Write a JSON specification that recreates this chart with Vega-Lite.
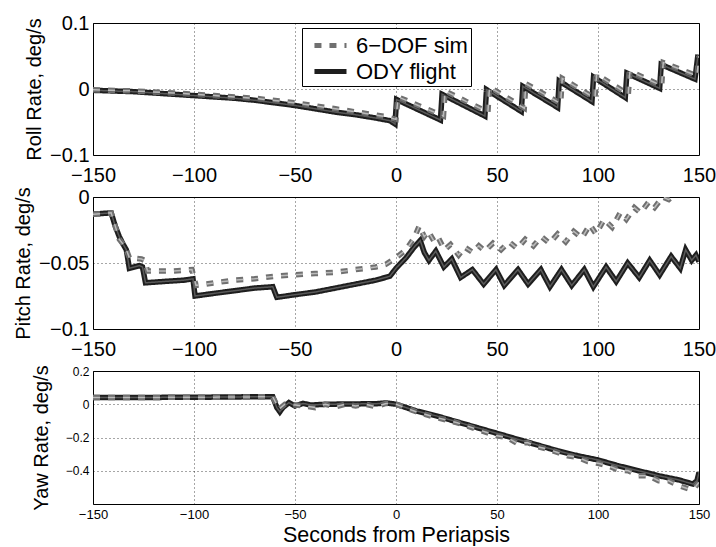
{
  "$schema": "https://vega.github.io/schema/vega-lite/v6.json",
  "background": "white",
  "padding": {"left": 12, "top": 12, "right": 0, "bottom": 0},
  "spacing": 42,
  "bounds": "flush",
  "datasets": {
    "roll": [
      {"t": -150, "v": -0.002, "s": "ODY flight"}, {"t": -140, "v": -0.003, "s": "ODY flight"}, {"t": -130, "v": -0.004, "s": "ODY flight"},
      {"t": -120, "v": -0.006, "s": "ODY flight"}, {"t": -110, "v": -0.008, "s": "ODY flight"}, {"t": -100, "v": -0.010, "s": "ODY flight"},
      {"t": -90, "v": -0.012, "s": "ODY flight"}, {"t": -80, "v": -0.014, "s": "ODY flight"}, {"t": -70, "v": -0.017, "s": "ODY flight"},
      {"t": -60, "v": -0.021, "s": "ODY flight"}, {"t": -50, "v": -0.025, "s": "ODY flight"}, {"t": -40, "v": -0.030, "s": "ODY flight"},
      {"t": -30, "v": -0.035, "s": "ODY flight"}, {"t": -20, "v": -0.039, "s": "ODY flight"}, {"t": -10, "v": -0.044, "s": "ODY flight"},
      {"t": -3, "v": -0.048, "s": "ODY flight"}, {"t": -0.5, "v": -0.053, "s": "ODY flight"}, {"t": 0.3, "v": -0.016, "s": "ODY flight"},
      {"t": 22, "v": -0.047, "s": "ODY flight"}, {"t": 22.8, "v": -0.008, "s": "ODY flight"}, {"t": 44, "v": -0.041, "s": "ODY flight"},
      {"t": 44.8, "v": -0.001, "s": "ODY flight"}, {"t": 62, "v": -0.034, "s": "ODY flight"}, {"t": 62.8, "v": 0.004, "s": "ODY flight"},
      {"t": 80, "v": -0.028, "s": "ODY flight"}, {"t": 80.8, "v": 0.012, "s": "ODY flight"}, {"t": 97, "v": -0.019, "s": "ODY flight"},
      {"t": 97.8, "v": 0.018, "s": "ODY flight"}, {"t": 113.5, "v": -0.013, "s": "ODY flight"}, {"t": 114.3, "v": 0.024, "s": "ODY flight"},
      {"t": 130.5, "v": 0.001, "s": "ODY flight"}, {"t": 131.3, "v": 0.037, "s": "ODY flight"}, {"t": 148, "v": 0.015, "s": "ODY flight"},
      {"t": 149.5, "v": 0.052, "s": "ODY flight"},
      {"t": -150, "v": -0.001, "s": "6−DOF sim"}, {"t": -130, "v": -0.003, "s": "6−DOF sim"}, {"t": -110, "v": -0.006, "s": "6−DOF sim"},
      {"t": -90, "v": -0.010, "s": "6−DOF sim"}, {"t": -70, "v": -0.014, "s": "6−DOF sim"}, {"t": -50, "v": -0.021, "s": "6−DOF sim"},
      {"t": -30, "v": -0.030, "s": "6−DOF sim"}, {"t": -15, "v": -0.037, "s": "6−DOF sim"}, {"t": -5, "v": -0.042, "s": "6−DOF sim"},
      {"t": 0, "v": -0.046, "s": "6−DOF sim"}, {"t": 1, "v": -0.012, "s": "6−DOF sim"}, {"t": 23.5, "v": -0.041, "s": "6−DOF sim"},
      {"t": 24.3, "v": -0.003, "s": "6−DOF sim"}, {"t": 45.5, "v": -0.035, "s": "6−DOF sim"}, {"t": 46.3, "v": 0.003, "s": "6−DOF sim"},
      {"t": 63.5, "v": -0.029, "s": "6−DOF sim"}, {"t": 64.3, "v": 0.008, "s": "6−DOF sim"}, {"t": 81.5, "v": -0.022, "s": "6−DOF sim"},
      {"t": 82.3, "v": 0.016, "s": "6−DOF sim"}, {"t": 98.5, "v": -0.014, "s": "6−DOF sim"}, {"t": 99.3, "v": 0.022, "s": "6−DOF sim"},
      {"t": 115, "v": -0.008, "s": "6−DOF sim"}, {"t": 115.8, "v": 0.027, "s": "6−DOF sim"}, {"t": 131.5, "v": 0.005, "s": "6−DOF sim"},
      {"t": 132.3, "v": 0.040, "s": "6−DOF sim"}, {"t": 149, "v": 0.020, "s": "6−DOF sim"}, {"t": 150, "v": 0.050, "s": "6−DOF sim"}
    ],
    "pitch": [
      {"t": -150, "v": -0.013, "s": "ODY flight"}, {"t": -141, "v": -0.012, "s": "ODY flight"}, {"t": -139, "v": -0.022, "s": "ODY flight"},
      {"t": -137, "v": -0.030, "s": "ODY flight"}, {"t": -135, "v": -0.036, "s": "ODY flight"}, {"t": -133.5, "v": -0.040, "s": "ODY flight"},
      {"t": -132, "v": -0.054, "s": "ODY flight"}, {"t": -127, "v": -0.052, "s": "ODY flight"}, {"t": -125.5, "v": -0.053, "s": "ODY flight"},
      {"t": -124, "v": -0.065, "s": "ODY flight"}, {"t": -115, "v": -0.064, "s": "ODY flight"}, {"t": -105, "v": -0.063, "s": "ODY flight"},
      {"t": -100.5, "v": -0.062, "s": "ODY flight"}, {"t": -99.5, "v": -0.075, "s": "ODY flight"}, {"t": -90, "v": -0.073, "s": "ODY flight"},
      {"t": -80, "v": -0.071, "s": "ODY flight"}, {"t": -70, "v": -0.069, "s": "ODY flight"}, {"t": -61, "v": -0.068, "s": "ODY flight"},
      {"t": -59, "v": -0.076, "s": "ODY flight"}, {"t": -50, "v": -0.074, "s": "ODY flight"}, {"t": -40, "v": -0.072, "s": "ODY flight"},
      {"t": -30, "v": -0.069, "s": "ODY flight"}, {"t": -20, "v": -0.066, "s": "ODY flight"}, {"t": -10, "v": -0.063, "s": "ODY flight"},
      {"t": -3, "v": -0.060, "s": "ODY flight"}, {"t": 0, "v": -0.054, "s": "ODY flight"}, {"t": 5, "v": -0.046, "s": "ODY flight"},
      {"t": 9, "v": -0.038, "s": "ODY flight"}, {"t": 12, "v": -0.033, "s": "ODY flight"}, {"t": 14, "v": -0.042, "s": "ODY flight"},
      {"t": 16.3, "v": -0.048, "s": "ODY flight"}, {"t": 19.7, "v": -0.041, "s": "ODY flight"}, {"t": 23.7, "v": -0.053, "s": "ODY flight"},
      {"t": 27.6, "v": -0.047, "s": "ODY flight"}, {"t": 32, "v": -0.061, "s": "ODY flight"}, {"t": 37.8, "v": -0.055, "s": "ODY flight"},
      {"t": 43.4, "v": -0.066, "s": "ODY flight"}, {"t": 49.5, "v": -0.055, "s": "ODY flight"}, {"t": 53.6, "v": -0.067, "s": "ODY flight"},
      {"t": 60.4, "v": -0.055, "s": "ODY flight"}, {"t": 65.4, "v": -0.066, "s": "ODY flight"}, {"t": 71.7, "v": -0.055, "s": "ODY flight"},
      {"t": 76.2, "v": -0.068, "s": "ODY flight"}, {"t": 81.9, "v": -0.055, "s": "ODY flight"}, {"t": 87, "v": -0.067, "s": "ODY flight"},
      {"t": 93.2, "v": -0.055, "s": "ODY flight"}, {"t": 97.7, "v": -0.068, "s": "ODY flight"}, {"t": 104, "v": -0.053, "s": "ODY flight"},
      {"t": 109, "v": -0.064, "s": "ODY flight"}, {"t": 114.7, "v": -0.050, "s": "ODY flight"}, {"t": 120.4, "v": -0.061, "s": "ODY flight"},
      {"t": 125.6, "v": -0.048, "s": "ODY flight"}, {"t": 130.5, "v": -0.059, "s": "ODY flight"}, {"t": 136.2, "v": -0.045, "s": "ODY flight"},
      {"t": 140.7, "v": -0.054, "s": "ODY flight"}, {"t": 143.4, "v": -0.040, "s": "ODY flight"}, {"t": 146.4, "v": -0.048, "s": "ODY flight"},
      {"t": 148.5, "v": -0.044, "s": "ODY flight"}, {"t": 150, "v": -0.049, "s": "ODY flight"},
      {"t": -150, "v": -0.013, "s": "6−DOF sim"}, {"t": -141, "v": -0.012, "s": "6−DOF sim"}, {"t": -139, "v": -0.022, "s": "6−DOF sim"},
      {"t": -137, "v": -0.032, "s": "6−DOF sim"}, {"t": -134, "v": -0.038, "s": "6−DOF sim"}, {"t": -132, "v": -0.046, "s": "6−DOF sim"},
      {"t": -126, "v": -0.047, "s": "6−DOF sim"}, {"t": -124.5, "v": -0.048, "s": "6−DOF sim"}, {"t": -123, "v": -0.056, "s": "6−DOF sim"},
      {"t": -110, "v": -0.056, "s": "6−DOF sim"}, {"t": -101, "v": -0.055, "s": "6−DOF sim"}, {"t": -99, "v": -0.067, "s": "6−DOF sim"},
      {"t": -90, "v": -0.065, "s": "6−DOF sim"}, {"t": -80, "v": -0.063, "s": "6−DOF sim"}, {"t": -70, "v": -0.062, "s": "6−DOF sim"},
      {"t": -60, "v": -0.060, "s": "6−DOF sim"}, {"t": -50, "v": -0.059, "s": "6−DOF sim"}, {"t": -40, "v": -0.058, "s": "6−DOF sim"},
      {"t": -30, "v": -0.057, "s": "6−DOF sim"}, {"t": -20, "v": -0.055, "s": "6−DOF sim"}, {"t": -10, "v": -0.053, "s": "6−DOF sim"},
      {"t": -5, "v": -0.051, "s": "6−DOF sim"}, {"t": 0, "v": -0.046, "s": "6−DOF sim"}, {"t": 5, "v": -0.040, "s": "6−DOF sim"},
      {"t": 9, "v": -0.031, "s": "6−DOF sim"}, {"t": 11.5, "v": -0.022, "s": "6−DOF sim"}, {"t": 14, "v": -0.030, "s": "6−DOF sim"},
      {"t": 16, "v": -0.026, "s": "6−DOF sim"}, {"t": 19, "v": -0.034, "s": "6−DOF sim"}, {"t": 21, "v": -0.031, "s": "6−DOF sim"},
      {"t": 24, "v": -0.040, "s": "6−DOF sim"}, {"t": 27, "v": -0.036, "s": "6−DOF sim"}, {"t": 31, "v": -0.044, "s": "6−DOF sim"},
      {"t": 34, "v": -0.038, "s": "6−DOF sim"}, {"t": 38, "v": -0.042, "s": "6−DOF sim"}, {"t": 41, "v": -0.037, "s": "6−DOF sim"},
      {"t": 44, "v": -0.041, "s": "6−DOF sim"}, {"t": 48, "v": -0.035, "s": "6−DOF sim"}, {"t": 52, "v": -0.040, "s": "6−DOF sim"},
      {"t": 56, "v": -0.034, "s": "6−DOF sim"}, {"t": 60, "v": -0.039, "s": "6−DOF sim"}, {"t": 64, "v": -0.032, "s": "6−DOF sim"},
      {"t": 68, "v": -0.037, "s": "6−DOF sim"}, {"t": 72, "v": -0.030, "s": "6−DOF sim"}, {"t": 76, "v": -0.035, "s": "6−DOF sim"},
      {"t": 80, "v": -0.028, "s": "6−DOF sim"}, {"t": 84, "v": -0.034, "s": "6−DOF sim"}, {"t": 88, "v": -0.026, "s": "6−DOF sim"},
      {"t": 92, "v": -0.031, "s": "6−DOF sim"}, {"t": 96, "v": -0.021, "s": "6−DOF sim"}, {"t": 99, "v": -0.028, "s": "6−DOF sim"},
      {"t": 103, "v": -0.017, "s": "6−DOF sim"}, {"t": 107, "v": -0.023, "s": "6−DOF sim"}, {"t": 111, "v": -0.012, "s": "6−DOF sim"},
      {"t": 114, "v": -0.017, "s": "6−DOF sim"}, {"t": 118, "v": -0.008, "s": "6−DOF sim"}, {"t": 121, "v": -0.012, "s": "6−DOF sim"},
      {"t": 125, "v": -0.004, "s": "6−DOF sim"}, {"t": 128, "v": -0.008, "s": "6−DOF sim"}, {"t": 132, "v": 0.000, "s": "6−DOF sim"},
      {"t": 135, "v": -0.002, "s": "6−DOF sim"}, {"t": 140, "v": 0.005, "s": "6−DOF sim"}, {"t": 150, "v": 0.012, "s": "6−DOF sim"}
    ],
    "yaw": [
      {"t": -150, "v": 0.040, "s": "ODY flight"}, {"t": -100, "v": 0.042, "s": "ODY flight"}, {"t": -70, "v": 0.045, "s": "ODY flight"},
      {"t": -61, "v": 0.045, "s": "ODY flight"}, {"t": -59, "v": -0.020, "s": "ODY flight"}, {"t": -57.5, "v": -0.045, "s": "ODY flight"},
      {"t": -56, "v": -0.020, "s": "ODY flight"}, {"t": -53, "v": 0.010, "s": "ODY flight"}, {"t": -50, "v": -0.010, "s": "ODY flight"},
      {"t": -46, "v": 0.005, "s": "ODY flight"}, {"t": -42, "v": -0.005, "s": "ODY flight"}, {"t": -35, "v": 0.000, "s": "ODY flight"},
      {"t": -20, "v": 0.002, "s": "ODY flight"}, {"t": -10, "v": 0.003, "s": "ODY flight"}, {"t": -5, "v": 0.008, "s": "ODY flight"},
      {"t": 0, "v": 0.000, "s": "ODY flight"}, {"t": 10, "v": -0.040, "s": "ODY flight"}, {"t": 20, "v": -0.070, "s": "ODY flight"},
      {"t": 30, "v": -0.105, "s": "ODY flight"}, {"t": 40, "v": -0.140, "s": "ODY flight"}, {"t": 50, "v": -0.175, "s": "ODY flight"},
      {"t": 60, "v": -0.210, "s": "ODY flight"}, {"t": 70, "v": -0.245, "s": "ODY flight"}, {"t": 80, "v": -0.280, "s": "ODY flight"},
      {"t": 90, "v": -0.310, "s": "ODY flight"}, {"t": 100, "v": -0.335, "s": "ODY flight"}, {"t": 110, "v": -0.370, "s": "ODY flight"},
      {"t": 120, "v": -0.400, "s": "ODY flight"}, {"t": 130, "v": -0.430, "s": "ODY flight"}, {"t": 140, "v": -0.455, "s": "ODY flight"},
      {"t": 147, "v": -0.480, "s": "ODY flight"}, {"t": 149, "v": -0.460, "s": "ODY flight"}, {"t": 150, "v": -0.410, "s": "ODY flight"},
      {"t": -150, "v": 0.040, "s": "6−DOF sim"}, {"t": -100, "v": 0.042, "s": "6−DOF sim"}, {"t": -61, "v": 0.045, "s": "6−DOF sim"},
      {"t": -58, "v": -0.030, "s": "6−DOF sim"}, {"t": -55, "v": 0.000, "s": "6−DOF sim"}, {"t": -50, "v": -0.005, "s": "6−DOF sim"},
      {"t": -45, "v": -0.010, "s": "6−DOF sim"}, {"t": -40, "v": -0.020, "s": "6−DOF sim"}, {"t": -35, "v": 0.000, "s": "6−DOF sim"},
      {"t": -30, "v": -0.015, "s": "6−DOF sim"}, {"t": -25, "v": 0.000, "s": "6−DOF sim"}, {"t": -20, "v": -0.010, "s": "6−DOF sim"},
      {"t": -15, "v": 0.000, "s": "6−DOF sim"}, {"t": -10, "v": -0.015, "s": "6−DOF sim"}, {"t": -5, "v": 0.005, "s": "6−DOF sim"},
      {"t": 0, "v": 0.000, "s": "6−DOF sim"}, {"t": 10, "v": -0.045, "s": "6−DOF sim"}, {"t": 20, "v": -0.080, "s": "6−DOF sim"},
      {"t": 30, "v": -0.110, "s": "6−DOF sim"}, {"t": 40, "v": -0.150, "s": "6−DOF sim"}, {"t": 50, "v": -0.190, "s": "6−DOF sim"},
      {"t": 55, "v": -0.200, "s": "6−DOF sim"}, {"t": 60, "v": -0.235, "s": "6−DOF sim"}, {"t": 65, "v": -0.230, "s": "6−DOF sim"},
      {"t": 70, "v": -0.255, "s": "6−DOF sim"}, {"t": 75, "v": -0.270, "s": "6−DOF sim"}, {"t": 80, "v": -0.290, "s": "6−DOF sim"},
      {"t": 85, "v": -0.310, "s": "6−DOF sim"}, {"t": 90, "v": -0.320, "s": "6−DOF sim"}, {"t": 95, "v": -0.345, "s": "6−DOF sim"},
      {"t": 100, "v": -0.355, "s": "6−DOF sim"}, {"t": 105, "v": -0.370, "s": "6−DOF sim"}, {"t": 110, "v": -0.395, "s": "6−DOF sim"},
      {"t": 115, "v": -0.400, "s": "6−DOF sim"}, {"t": 120, "v": -0.430, "s": "6−DOF sim"}, {"t": 125, "v": -0.430, "s": "6−DOF sim"},
      {"t": 130, "v": -0.460, "s": "6−DOF sim"}, {"t": 135, "v": -0.460, "s": "6−DOF sim"}, {"t": 140, "v": -0.490, "s": "6−DOF sim"},
      {"t": 145, "v": -0.510, "s": "6−DOF sim"}, {"t": 148, "v": -0.500, "s": "6−DOF sim"}, {"t": 150, "v": -0.470, "s": "6−DOF sim"}
    ]
  },
  "resolve": {"scale": {"color": "independent", "strokeDash": "independent", "stroke": "independent"}},
  "vconcat": [
    {
      "width": 606, "height": 132,
      "data": {"name": "roll"},
      "layer": [
        {
          "mark": {"type": "line", "clip": true, "strokeWidth": 5.5},
          "encoding": {
            "x": {"field": "t", "type": "quantitative", "scale": {"domain": [-150, 150], "nice": false, "zero": false}, "axis": {"values": [-150, -100, -50, 0, 50, 100, 150], "title": null, "labelPadding": 10, "labelFontSize": 20}},
            "y": {"field": "v", "type": "quantitative", "scale": {"domain": [-0.1, 0.1], "nice": false, "zero": false}, "axis": {"values": [-0.1, 0, 0.1], "format": "~g", "title": "Roll Rate, deg/s"}},
            "color": {"field": "s", "type": "nominal", "scale": {"domain": ["6−DOF sim", "ODY flight"], "range": ["#707070", "#1e1e1e"]}, "legend": {"title": null, "orient": "none", "legendX": 209, "legendY": 5}},
            "strokeDash": {"field": "s", "type": "nominal", "scale": {"domain": ["6−DOF sim", "ODY flight"], "range": [[7, 8], [1, 0]]}, "legend": {"title": null, "orient": "none", "legendX": 209, "legendY": 5}}
          }
        },
        {
          "mark": {"type": "line", "clip": true, "strokeWidth": 1.5},
          "encoding": {
            "x": {"field": "t", "type": "quantitative"},
            "y": {"field": "v", "type": "quantitative"},
            "stroke": {"field": "s", "type": "nominal", "scale": {"domain": ["6−DOF sim", "ODY flight"], "range": ["#bbbbbb", "#5a5a5a"]}, "legend": null},
            "strokeDash": {"field": "s", "type": "nominal", "legend": null}
          }
        }
      ]
    },
    {
      "width": 606, "height": 132,
      "data": {"name": "pitch"},
      "layer": [
        {
          "mark": {"type": "line", "clip": true, "strokeWidth": 5.5},
          "encoding": {
            "x": {"field": "t", "type": "quantitative", "scale": {"domain": [-150, 150], "nice": false, "zero": false}, "axis": {"values": [-150, -100, -50, 0, 50, 100, 150], "title": null, "labelPadding": 10, "labelFontSize": 20}},
            "y": {"field": "v", "type": "quantitative", "scale": {"domain": [-0.1, 0], "nice": false, "zero": false}, "axis": {"values": [-0.1, -0.05, 0], "format": "~g", "title": "Pitch Rate, deg/s"}},
            "color": {"field": "s", "type": "nominal", "scale": {"domain": ["6−DOF sim", "ODY flight"], "range": ["#707070", "#1e1e1e"]}, "legend": null},
            "strokeDash": {"field": "s", "type": "nominal", "scale": {"domain": ["6−DOF sim", "ODY flight"], "range": [[7, 8], [1, 0]]}, "legend": null}
          }
        },
        {
          "mark": {"type": "line", "clip": true, "strokeWidth": 1.5},
          "encoding": {
            "x": {"field": "t", "type": "quantitative"},
            "y": {"field": "v", "type": "quantitative"},
            "stroke": {"field": "s", "type": "nominal", "scale": {"domain": ["6−DOF sim", "ODY flight"], "range": ["#bbbbbb", "#5a5a5a"]}, "legend": null},
            "strokeDash": {"field": "s", "type": "nominal", "legend": null}
          }
        }
      ]
    },
    {
      "width": 606, "height": 133,
      "data": {"name": "yaw"},
      "layer": [
        {
          "mark": {"type": "line", "clip": true, "strokeWidth": 5.5},
          "encoding": {
            "x": {"field": "t", "type": "quantitative", "scale": {"domain": [-150, 150], "nice": false, "zero": false}, "axis": {"values": [-150, -100, -50, 0, 50, 100, 150], "title": "Seconds from Periapsis", "labelFontSize": 13, "titleFontSize": 21.5, "titlePadding": 3}},
            "y": {"field": "v", "type": "quantitative", "scale": {"domain": [-0.6, 0.2], "nice": false, "zero": false}, "axis": {"values": [-0.4, -0.2, 0, 0.2], "format": "~g", "title": "Yaw Rate, deg/s", "labelFontSize": 12, "titlePadding": 14}},
            "color": {"field": "s", "type": "nominal", "scale": {"domain": ["6−DOF sim", "ODY flight"], "range": ["#707070", "#1e1e1e"]}, "legend": null},
            "strokeDash": {"field": "s", "type": "nominal", "scale": {"domain": ["6−DOF sim", "ODY flight"], "range": [[7, 8], [1, 0]]}, "legend": null}
          }
        },
        {
          "mark": {"type": "line", "clip": true, "strokeWidth": 1.5},
          "encoding": {
            "x": {"field": "t", "type": "quantitative"},
            "y": {"field": "v", "type": "quantitative"},
            "stroke": {"field": "s", "type": "nominal", "scale": {"domain": ["6−DOF sim", "ODY flight"], "range": ["#bbbbbb", "#5a5a5a"]}, "legend": null},
            "strokeDash": {"field": "s", "type": "nominal", "legend": null}
          }
        }
      ]
    }
  ],
  "config": {
    "view": {"stroke": "black", "strokeWidth": 1},
    "font": "Liberation Sans",
    "axis": {
      "domain": false, "ticks": false, "grid": true,
      "gridColor": "black", "gridDash": [1, 3], "gridOpacity": 0.7, "gridWidth": 1,
      "labelFont": "Liberation Sans", "labelFontSize": 20, "labelColor": "black", "labelFlush": false, "labelOverlap": false, "labelBound": false,
      "labelPadding": 4,
      "titleFont": "Liberation Sans", "titleFontSize": 20, "titleFontWeight": "normal", "titleColor": "black", "titlePadding": 5
    },
    "legend": {
      "fillColor": "white", "strokeColor": "black", "padding": 3,
      "symbolType": "M-0.42,0H2.25", "symbolSize": 576, "symbolStrokeWidth": 5,
      "labelFont": "Liberation Sans", "labelFontSize": 22, "labelColor": "black", "labelOffset": 22, "labelLimit": 300,
      "rowPadding": 0
    }
  }
}
